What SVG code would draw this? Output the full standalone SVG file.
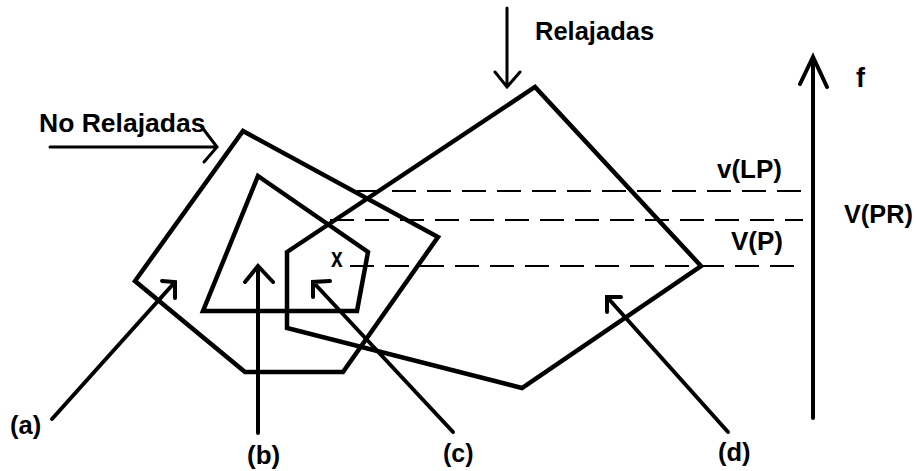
<svg xmlns="http://www.w3.org/2000/svg" width="917" height="471" viewBox="0 0 917 471">
<style>
.poly{fill:none;stroke:#000;stroke-width:4.5;stroke-linejoin:miter}
.arr{fill:none;stroke:#000;stroke-width:4;stroke-linecap:round;stroke-linejoin:miter}
.thin{fill:none;stroke:#000;stroke-width:3;stroke-linecap:round}
.dash{fill:none;stroke:#000;stroke-width:2;stroke-dasharray:24 11}
text{font-family:"Liberation Sans",Arial,sans-serif;font-weight:bold;fill:#000}
</style>
<rect width="917" height="471" fill="#fff"/>
<g id="poly-a"><polygon class="poly" points="243,131 438,237 343,372 245,372 135,281"/></g>
<g id="poly-b"><polygon class="poly" points="258,176 368,252 357,311 203,311"/></g>
<g id="poly-d"><polygon class="poly" points="287,252 535,87 701,266 522,388 287,328"/></g>
<g id="levels">
<line class="dash" x1="357" y1="191" x2="805" y2="191"/>
<line class="dash" x1="330" y1="220" x2="803" y2="220"/>
<line class="dash" x1="350" y1="266" x2="803" y2="266"/>
</g>
<g id="connectors">
<path class="thin" d="M50,147 H217 M201,126 L217,147 L204,162"/>
<path class="thin" d="M507,8 V87 M495,72 L507,87 L520,72"/>
<path class="arr" d="M813,418 V57 M800,84 L813,57 L827,87"/>
<path class="arr" d="M52,419 L175,282 M162,281 L175,282 L175,298"/>
<path class="arr" d="M258,433 V266 M245,282 L258,266 L273,282"/>
<path class="arr" d="M453,432 L313,282 M330,281 L313,282 L313,297"/>
<path class="arr" d="M728,432 L607,297 M621,297 L607,297 L607,312"/>
</g>
<g id="labels">
<text x="39" y="132" font-size="26.5">No Relajadas</text>
<text x="535" y="40" font-size="25.5">Relajadas</text>
<text x="856" y="87" font-size="27">f</text>
<text x="717" y="178" font-size="26">v(LP)</text>
<text x="844" y="223" font-size="25.3">V(PR)</text>
<text x="731" y="250" font-size="26">V(P)</text>
<text transform="translate(331,267) scale(1,1.35)" font-size="21">x</text>
<text x="10" y="434" font-size="25.5">(a)</text>
<text x="247" y="464" font-size="26">(b)</text>
<text x="443" y="462" font-size="25">(c)</text>
<text x="718" y="461" font-size="25.5">(d)</text>
</g>
</svg>
